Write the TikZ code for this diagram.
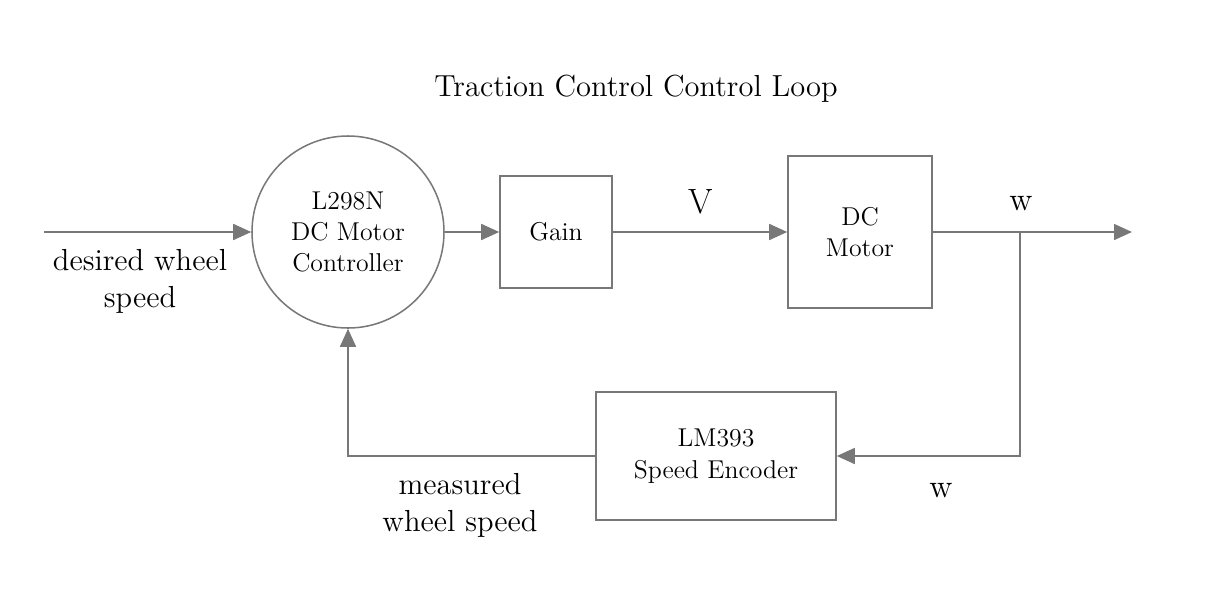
\documentclass[tikz,border=0pt]{standalone}
\usetikzlibrary{arrows.meta,positioning}
\definecolor{linegray}{RGB}{120,120,120}
\tikzset{
  flow/.style={draw=linegray, line width=0.65pt, -{Triangle[length=0.27cm,width=0.24cm]}},
  block/.style={draw=linegray, line width=0.65pt, rectangle, align=center, inner sep=0pt,
    font=\fontsize{11}{13.4}\selectfont},
  sig/.style={align=center, font=\fontsize{13}{15.8}\selectfont}
}
\begin{document}
\begin{tikzpicture}[x=0.015cm, y=-0.015cm]
\useasboundingbox (0,0) rectangle (1210,598);
\node[sig] (title) at (636,89) {Traction Control Control Loop};
% blocks
\node[block, circle, minimum size=2.88cm] (ctrl) at (348,232) {L298N\\DC Motor\\Controller};
\node[block, minimum width=1.68cm, minimum height=1.68cm] (gain) at (556,232) {Gain};
\node[block, minimum width=2.16cm, minimum height=2.28cm] (motor) at (860,232) {DC\\Motor};
\node[block, minimum width=3.6cm, minimum height=1.92cm] (enc) at (716,456) {LM393\\Speed Encoder};
% free ends
\coordinate (in) at (44,232);
\coordinate (out) at (1132,232);
\coordinate (tap) at (1020,232);
% connectors
\draw[flow] (in) -- (ctrl);
\draw[flow] (ctrl) -- (gain);
\draw[flow] (gain) -- (motor);
\draw[flow] (motor) -- (out);
\draw[flow] (tap) |- (enc);
\draw[flow] (enc) -| (ctrl);
% signal labels
\node[sig] (desired) at (140,281) {desired wheel\\speed};
\node[sig, font=\fontsize{15}{17}\selectfont] (volt) at (701,202) {V};
\node[sig, font=\fontsize{14}{16}\selectfont] (wout) at (1021,204) {w};
\node[sig, font=\fontsize{14}{16}\selectfont] (wfb) at (941,491) {w};
\node[sig] (measured) at (460,505) {measured\\wheel speed};
\end{tikzpicture}
\end{document}
